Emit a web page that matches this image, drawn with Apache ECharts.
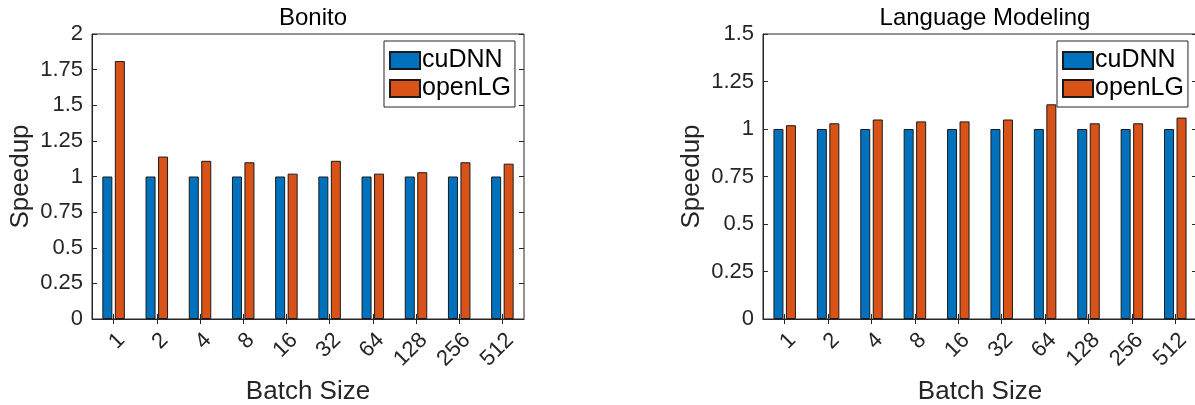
<!DOCTYPE html>
<html>
<head>
<meta charset="utf-8">
<title>Speedup: Bonito and Language Modeling</title>
<script src="https://cdn.jsdelivr.net/npm/echarts@6.0.0/dist/echarts.min.js"></script>
<style>
  html, body { margin: 0; padding: 0; background: #fff; }
  #chart { width: 1195px; height: 405px; }
</style>
</head>
<body>
<div id="chart"></div>
<script>
// batch sizes on the x axis (shared by both panels)
const batchSizes = ['1', '2', '4', '8', '16', '32', '64', '128', '256', '512'];

// Bonito panel
const bonitoCudnn = [1, 1, 1, 1, 1, 1, 1, 1, 1, 1];
const bonitoOpenLG = [1.81, 1.14, 1.11, 1.10, 1.02, 1.11, 1.02, 1.03, 1.10, 1.09];
const bonitoYMax = 2;

// Language Modeling panel
const lmCudnn = [1, 1, 1, 1, 1, 1, 1, 1, 1, 1];
const lmOpenLG = [1.02, 1.03, 1.05, 1.04, 1.04, 1.05, 1.13, 1.03, 1.03, 1.06];
const lmYMax = 1.5;

const yStep = 0.25;

const FONT = '"Liberation Sans", Arial, Helvetica, sans-serif';
const INK = '#262626';
const BLUE = '#0072BD';
const ORANGE = '#D95319';

// pixel boxes of the two axes (the right one runs slightly past the canvas edge)
const panels = [
  { title: 'Bonito', left: 92, width: 432, yMax: bonitoYMax, cudnn: bonitoCudnn, openlg: bonitoOpenLG },
  { title: 'Language Modeling', left: 763, width: 434, yMax: lmYMax, cudnn: lmCudnn, openlg: lmOpenLG },
];
const TOP = 34;
const HEIGHT = 285;

const chart = echarts.init(document.getElementById('chart'), null, { renderer: 'canvas' });

const grid = [], xAxis = [], yAxis = [], series = [], legend = [], title = [];

panels.forEach((p, i) => {
  // fixed box; don't let echarts shrink it to fit labels
  grid.push({
    left: p.left, top: TOP, width: p.width, height: HEIGHT,
    outerBoundsMode: 'none', containLabel: false,
    show: true, borderColor: INK, borderWidth: 1, backgroundColor: 'transparent',
  });

  title.push({
    text: p.title,
    left: p.left + p.width / 2,
    top: 1,
    textAlign: 'center',
    textStyle: { fontFamily: FONT, fontSize: 24, fontWeight: 'normal', color: '#000' },
  });

  // bottom axis with labels
  xAxis.push({
    gridIndex: i,
    type: 'category',
    data: batchSizes,
    position: 'bottom',
    name: 'Batch Size',
    nameLocation: 'middle',
    nameGap: 60,
    nameTextStyle: { fontFamily: FONT, fontSize: 26, color: INK },
    axisLine: { show: true, lineStyle: { color: INK, width: 1 } },
    axisTick: { show: true, inside: true, length: 5, alignWithLabel: true, lineStyle: { color: INK } },
    axisLabel: { rotate: 45, margin: 10, verticalAlign: 'top', fontFamily: FONT, fontSize: 22, color: INK },
    splitLine: { show: false },
  });
  // top mirror axis: ticks only
  xAxis.push({
    gridIndex: i,
    type: 'category',
    data: batchSizes,
    position: 'top',
    axisLine: { show: false },
    axisTick: { show: true, inside: true, length: 5, alignWithLabel: true, lineStyle: { color: INK } },
    axisLabel: { show: false },
    splitLine: { show: false },
  });

  yAxis.push({
    gridIndex: i,
    type: 'value',
    min: 0, max: p.yMax, interval: yStep,
    position: 'left',
    name: 'Speedup',
    nameLocation: 'middle',
    nameGap: 58,
    nameTextStyle: { fontFamily: FONT, fontSize: 26, color: INK },
    axisLine: { show: true, lineStyle: { color: INK, width: 1 } },
    axisTick: { show: true, inside: true, length: 5, lineStyle: { color: INK } },
    axisLabel: { margin: 9, fontFamily: FONT, fontSize: 22, color: INK },
    splitLine: { show: false },
  });
  yAxis.push({
    gridIndex: i,
    type: 'value',
    min: 0, max: p.yMax, interval: yStep,
    position: 'right',
    axisLine: { show: false },
    axisTick: { show: true, inside: true, length: 5, lineStyle: { color: INK } },
    axisLabel: { show: false },
    splitLine: { show: false },
  });

  const barStyle = color => ({ color, borderColor: '#1a1a1a', borderWidth: 1 });
  series.push({
    name: 'cuDNN', type: 'bar',
    xAxisIndex: i * 2, yAxisIndex: i * 2,
    data: p.cudnn, barWidth: 10, barGap: '25%',
    itemStyle: barStyle(BLUE),
  });
  series.push({
    name: 'openLG', type: 'bar',
    xAxisIndex: i * 2, yAxisIndex: i * 2,
    data: p.openlg, barWidth: 10, barGap: '25%',
    itemStyle: barStyle(ORANGE),
  });

  legend.push({
    orient: 'vertical',
    left: p.left + p.width - 9 - 131,
    top: 41,
    width: 131,
    padding: [7, 4, 6, 5],
    itemWidth: 30, itemHeight: 17, itemGap: 3,
    icon: 'rect',
    backgroundColor: '#fff',
    borderColor: INK, borderWidth: 1,
    data: ['cuDNN', 'openLG'],
    textStyle: { fontFamily: FONT, fontSize: 25, color: '#000', padding: [0, 0, 0, -3] },
  });
});

chart.setOption({
  animation: false,
  title, grid, xAxis, yAxis, series, legend,
});
</script>
</body>
</html>
